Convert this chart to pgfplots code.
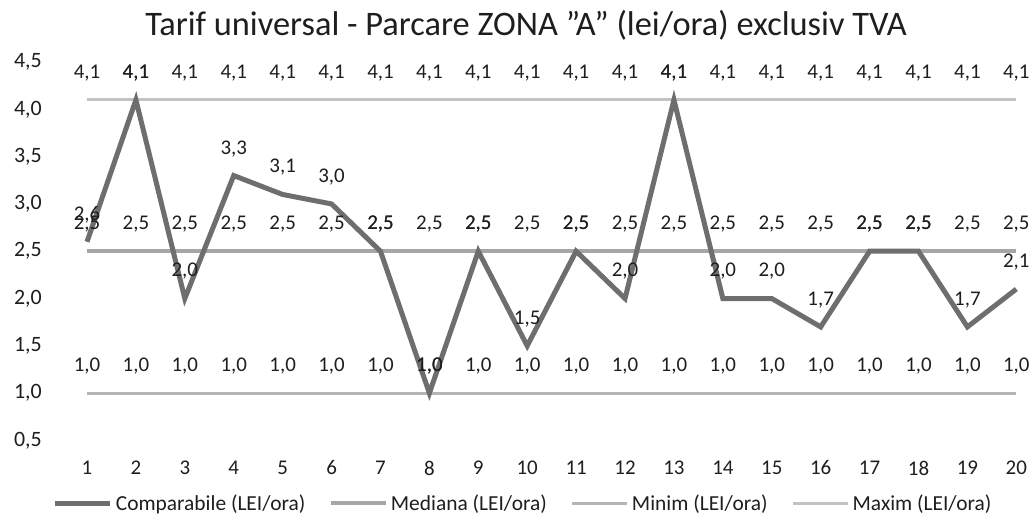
\documentclass[border=0pt]{standalone}
\usepackage{fontspec}
\setmainfont{Carlito}
\usepackage{pgfplots}
\pgfplotsset{compat=1.18}
\definecolor{cmp}{HTML}{6E6E6E}
\definecolor{med}{HTML}{A6A6A6}
\definecolor{mn}{HTML}{B5B5B5}
\definecolor{mx}{HTML}{C2C2C2}
\definecolor{txt}{HTML}{1E1E1E}
\begin{document}
\begin{tikzpicture}
\begin{axis}[
  at={(0,0)}, anchor=south west,
  scale only axis, width=971bp, height=402bp,
  xmin=0.448, xmax=20.3, ymin=0.35, ymax=4.6,
  axis line style={draw=none}, major tick length=0pt,
  xtick={1,...,20}, ytick={0.5,1,...,4.5},
  clip=false,
  /pgf/number format/.cd, use comma, fixed, fixed zerofill, precision=1, assume math mode=true,
  /pgfplots/.cd,
  ticklabel style={font=\fontsize{22}{24}\selectfont, text=txt},
  yticklabel style={inner sep=0pt, anchor=east, xshift=-18bp},
  xticklabel style={font=\fontsize{21}{24}\selectfont, inner sep=0pt, anchor=north, yshift=-6bp, /pgf/number format/fixed zerofill=false, /pgf/number format/precision=0},
  nodes near coords,
  every node near coord/.append style={font=\fontsize{21}{24}\selectfont, text=txt, anchor=center, yshift=27bp, inner sep=0pt},
  legend columns=4,
  legend style={at={(0.477,-0.1206)}, anchor=center, draw=none, fill=none,
    font=\fontsize{21.5}{24}\selectfont, text=txt, inner sep=0pt,
    /tikz/every odd column/.append style={column sep=1bp},
    /tikz/every even column/.append style={column sep=22bp}},
  legend image code/.code={\draw[#1] (0bp,0bp) -- (55bp,0bp);},
]
\addlegendimage{cmp, line width=5bp}
\addlegendimage{med, line width=3.5bp}
\addlegendimage{mn, line width=3bp}
\addlegendimage{mx, line width=3bp}

\addplot[mn, line width=3bp, forget plot] coordinates {(1,1.0)(2,1.0)(3,1.0)(4,1.0)(5,1.0)(6,1.0)(7,1.0)(8,1.0)(9,1.0)(10,1.0)(11,1.0)(12,1.0)(13,1.0)(14,1.0)(15,1.0)(16,1.0)(17,1.0)(18,1.0)(19,1.0)(20,1.0)};
\addplot[mx, line width=3bp, forget plot] coordinates {(1,4.1)(2,4.1)(3,4.1)(4,4.1)(5,4.1)(6,4.1)(7,4.1)(8,4.1)(9,4.1)(10,4.1)(11,4.1)(12,4.1)(13,4.1)(14,4.1)(15,4.1)(16,4.1)(17,4.1)(18,4.1)(19,4.1)(20,4.1)};
\addplot[med, line width=3.5bp, forget plot] coordinates {(1,2.5)(2,2.5)(3,2.5)(4,2.5)(5,2.5)(6,2.5)(7,2.5)(8,2.5)(9,2.5)(10,2.5)(11,2.5)(12,2.5)(13,2.5)(14,2.5)(15,2.5)(16,2.5)(17,2.5)(18,2.5)(19,2.5)(20,2.5)};
\addplot[cmp, line width=5bp, line join=miter, forget plot] coordinates {(1,2.6)(2,4.1)(3,2.0)(4,3.3)(5,3.1)(6,3.0)(7,2.5)(8,1.0)(9,2.5)(10,1.5)(11,2.5)(12,2.0)(13,4.1)(14,2.0)(15,2.0)(16,1.7)(17,2.5)(18,2.5)(19,1.7)(20,2.1)};

\legend{Comparabile (LEI/ora), Mediana (LEI/ora), Minim (LEI/ora), Maxim (LEI/ora)}
\node[font=\fontsize{34.5}{38}\selectfont, text=txt, yshift=27.6bp] at (rel axis cs:0.480,1) {Tarif universal - Parcare ZONA ”A” (lei/ora) exclusiv TVA};
\end{axis}
\pgfresetboundingbox
\path[use as bounding box] (-60bp,-62.5bp) rectangle (971bp,454.6bp);
\end{tikzpicture}
\end{document}
